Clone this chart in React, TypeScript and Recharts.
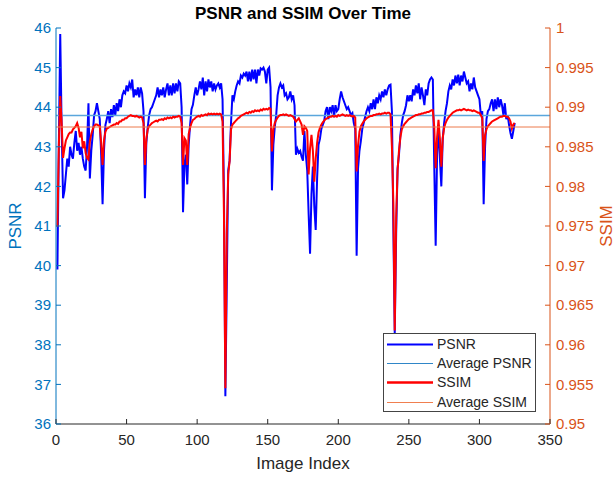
import React from 'react';
import { LineChart, Line, XAxis, YAxis, ReferenceLine, Legend } from 'recharts';

// PSNR per image (image index 1..325)
const psnr = [
  39.9, 43.0, 45.85, 43.5, 41.7, 41.9, 42.3, 42.7, 42.5, 43.0,
  42.8, 42.7, 43.1, 43.4, 42.9, 43.1, 42.8, 43.0, 42.7, 42.5,
  42.4, 43.0, 44.1, 42.2, 42.9, 43.3, 43.8, 43.9, 44.1, 43.9,
  43.7, 42.8, 41.55, 42.9, 43.55, 43.7, 43.9, 43.6, 43.95, 43.75,
  44.05, 43.8, 44.1, 43.9, 44.2, 44.0, 44.3, 44.4, 44.35, 44.55,
  44.4, 44.6, 44.5, 44.7, 44.25, 44.45, 44.3, 44.5, 44.25, 44.5,
  44.35, 43.9, 41.7, 43.1, 43.5, 43.8, 43.95, 44.0, 44.1, 44.2,
  44.3, 44.5, 44.25, 44.45, 44.3, 44.5, 44.25, 44.45, 44.6, 44.3,
  44.55, 44.3, 44.6, 44.35, 44.6, 44.4, 44.65, 44.6, 44.0, 41.35,
  42.55, 42.8, 42.05, 43.05, 43.55, 43.95, 44.06, 44.3, 44.5, 44.3,
  44.45, 44.65, 44.45, 44.75, 44.3, 44.65, 44.4, 44.7, 44.5, 44.65,
  44.4, 44.6, 44.45, 44.55, 44.6, 44.5, 44.6, 44.2, 41.8, 36.7,
  39.5, 42.4, 42.65, 43.6, 44.3, 44.2, 44.4, 44.55, 44.65, 44.6,
  44.8, 44.75, 44.85, 44.8, 44.9, 44.65, 44.9, 44.65, 44.95, 44.7,
  44.95, 44.6, 44.95, 44.8, 44.98, 44.95, 45.0, 44.9, 44.6, 44.95,
  45.0, 44.5, 41.9, 43.05, 43.5, 43.8, 44.3, 44.5, 44.6, 44.5,
  44.55, 44.3, 44.35, 44.2, 44.25, 44.4, 44.2, 44.3, 44.05, 42.8,
  42.95, 42.85, 42.9, 42.75, 42.65, 43.4, 42.8, 42.4, 41.3, 40.3,
  41.8, 42.5, 41.5, 40.9, 42.2, 43.05, 43.2, 43.45, 43.55, 43.65,
  43.9, 44.0, 43.7, 44.0, 43.9, 44.05, 43.75, 44.05, 43.9, 43.95,
  44.2, 44.4, 44.25, 44.15, 44.05, 43.95, 44.0, 43.9, 43.8, 43.85,
  43.6, 43.45, 40.25, 42.45, 42.9, 43.15, 43.45, 43.6, 43.75, 43.9,
  44.0, 43.9, 44.1, 43.95, 44.2, 43.95, 44.25, 44.1, 44.3, 44.2,
  44.4, 44.25, 44.45, 44.3, 44.45, 44.55, 44.57, 43.9, 41.0, 38.3,
  40.8, 42.45, 42.8, 43.3, 43.6, 43.8, 43.9, 44.05, 44.3, 44.15,
  44.3, 44.15, 44.45, 44.3, 44.55, 44.35, 44.6, 44.2, 44.5, 44.3,
  44.05, 44.45, 44.3, 44.6, 44.7, 44.75, 44.7, 42.5, 40.5, 42.8,
  43.55, 42.7, 42.0, 43.2, 43.6, 43.9, 44.1, 44.4, 44.55, 44.45,
  44.7, 44.55, 44.8, 44.6, 44.82, 44.55, 44.8, 44.65, 44.9, 44.75,
  44.6, 44.65, 44.4, 44.6, 44.45, 44.75, 44.5, 44.4, 44.3, 44.2,
  43.8, 43.9, 41.55, 43.0, 43.7, 43.9, 43.95, 44.1, 44.2, 43.9,
  44.2, 43.95, 44.25, 44.0, 44.2, 44.05, 43.8, 44.1, 43.7, 43.8,
  43.55, 43.35, 43.2, 43.4, 43.6,
];

// SSIM per image (image index 1..325)
const ssim = [
  0.9749, 0.985, 0.9914, 0.988, 0.9836, 0.9848, 0.9858, 0.9862, 0.9866, 0.9868,
  0.9868, 0.9872, 0.9874, 0.9876, 0.988, 0.9874, 0.9862, 0.9869, 0.9848, 0.9857,
  0.9842, 0.9836, 0.9834, 0.9857, 0.9866, 0.9872, 0.9876, 0.9878, 0.9878, 0.9877,
  0.9876, 0.9855, 0.9827, 0.9858, 0.9869, 0.9873, 0.9874, 0.9875, 0.9876, 0.9877,
  0.9878, 0.9878, 0.988, 0.9879, 0.9882, 0.9882, 0.9884, 0.9884, 0.9886, 0.9886,
  0.9888, 0.9889, 0.989, 0.9889, 0.9889, 0.9888, 0.9889, 0.9888, 0.9887, 0.9888,
  0.9887, 0.988, 0.9827, 0.986, 0.9872, 0.9876, 0.9878, 0.988, 0.9881, 0.9882,
  0.9883, 0.9882, 0.9884, 0.9884, 0.9885, 0.9884, 0.9886, 0.9885, 0.9887, 0.9886,
  0.9887, 0.9886, 0.9888, 0.9887, 0.9888, 0.9888, 0.9889, 0.9888, 0.988, 0.9827,
  0.9861, 0.9858, 0.9827, 0.9866, 0.9874, 0.988, 0.9884, 0.9885, 0.9887, 0.9888,
  0.9889, 0.9888, 0.989, 0.9889, 0.989, 0.9891, 0.989, 0.9892, 0.9891, 0.9892,
  0.9891, 0.9892, 0.9891, 0.9892, 0.9891, 0.9892, 0.9891, 0.9882, 0.9765, 0.9545,
  0.974, 0.9815, 0.9832, 0.9872, 0.9878, 0.988, 0.9882, 0.9884, 0.9886, 0.9887,
  0.9889, 0.989, 0.9891, 0.9892, 0.9893, 0.9892, 0.9894, 0.9893, 0.9895, 0.9894,
  0.9896, 0.9895, 0.9896, 0.9895, 0.9897, 0.9896, 0.9898, 0.9897, 0.9898, 0.9897,
  0.9899, 0.9898, 0.9844, 0.9872, 0.988, 0.9884, 0.9887, 0.9889, 0.989, 0.989,
  0.9891, 0.989, 0.9891, 0.989, 0.9889, 0.989, 0.9889, 0.9888, 0.9885, 0.9882,
  0.9884, 0.9886, 0.9882, 0.9878, 0.9865, 0.9876, 0.9874, 0.987, 0.9815, 0.9848,
  0.9865, 0.9845, 0.9806, 0.9835, 0.9855, 0.9868, 0.9874, 0.9878, 0.9881, 0.9883,
  0.9885, 0.9886, 0.9887, 0.9888, 0.9888, 0.9889, 0.9888, 0.9889, 0.9888, 0.989,
  0.9889, 0.989, 0.9891, 0.989, 0.9889, 0.989, 0.9889, 0.989, 0.9889, 0.9888,
  0.9889, 0.9887, 0.9819, 0.9852, 0.9869, 0.9876, 0.9879, 0.9882, 0.9884, 0.9886,
  0.9887, 0.9888, 0.9889, 0.9889, 0.989, 0.989, 0.9891, 0.9891, 0.9892, 0.9891,
  0.9892, 0.9892, 0.9893, 0.9892, 0.9893, 0.9893, 0.9891, 0.985, 0.978, 0.9618,
  0.976, 0.982, 0.9845, 0.9862, 0.9872, 0.9876, 0.9879, 0.9881, 0.9883, 0.9885,
  0.9886, 0.9887, 0.9888, 0.9889, 0.989, 0.989, 0.9891, 0.9891, 0.9892, 0.9892,
  0.9893, 0.9893, 0.9894, 0.9894, 0.9895, 0.9896, 0.9896, 0.9875, 0.9823, 0.9862,
  0.9884, 0.986, 0.9825, 0.9861, 0.9874, 0.988, 0.9884, 0.9887, 0.9889, 0.9891,
  0.9893, 0.9894, 0.9895, 0.9896, 0.9896, 0.9897, 0.9896, 0.9897, 0.9898, 0.9897,
  0.9896, 0.9897, 0.9896, 0.9896, 0.9895, 0.9896, 0.9895, 0.9894, 0.9893, 0.9893,
  0.989, 0.9886, 0.9832, 0.9865, 0.9872, 0.9876, 0.9878, 0.988, 0.9882, 0.9883,
  0.9884, 0.9885, 0.9886, 0.9887, 0.9888, 0.9888, 0.9889, 0.9889, 0.9888, 0.9888,
  0.9886, 0.9882, 0.9873, 0.9878, 0.988,
];

const AVG_PSNR = 43.79;
const AVG_SSIM = 0.9875;

const xTicks = [0, 50, 100, 150, 200, 250, 300, 350];
const psnrTicks = [36, 37, 38, 39, 40, 41, 42, 43, 44, 45, 46];
const ssimTicks = [0.95, 0.955, 0.96, 0.965, 0.97, 0.975, 0.98, 0.985, 0.99, 0.995, 1];

const legendItems = [
  { name: 'PSNR', color: '#0000FF', width: 2 },
  { name: 'Average PSNR', color: '#2F86C8', width: 1 },
  { name: 'SSIM', color: '#FF0000', width: 2.5 },
  { name: 'Average SSIM', color: '#F07F4F', width: 1 },
];

const data = psnr.map((p, i) => ({ idx: i + 1, psnr: p, ssim: ssim[i] }));

const W = 616;
const H = 477;
const PL = 56;
const PR = 550;
const PT = 28;
const PB = 424;
const FONT = '"Liberation Sans", Arial, Helvetica, sans-serif';
const BLUE_AX = '#0072BD';
const ORANGE_AX = '#D95319';
const DARK = '#262626';
const TICK_FS = 15;

const BottomTick = (props: any) => {
  const { x, payload } = props;
  return (
    <g>
      <line x1={x} x2={x} y1={PB} y2={PB - 5} stroke={DARK} strokeWidth={1} />
      <text x={x} y={PB + 16} dy="0.35em" textAnchor="middle" fill={DARK} fontSize={TICK_FS} fontFamily={FONT}>
        {payload.value}
      </text>
    </g>
  );
};

const TopTick = (props: any) => {
  const { x } = props;
  return <line x1={x} x2={x} y1={PT} y2={PT + 5} stroke={DARK} strokeWidth={1} />;
};

const LeftTick = (props: any) => {
  const { y, payload } = props;
  return (
    <g>
      <line x1={PL} x2={PL + 5} y1={y} y2={y} stroke={BLUE_AX} strokeWidth={1} />
      <text x={PL - 5} y={y} dy="0.35em" textAnchor="end" fill={BLUE_AX} fontSize={TICK_FS} fontFamily={FONT}>
        {payload.value}
      </text>
    </g>
  );
};

const RightTick = (props: any) => {
  const { y, payload } = props;
  const label = String(Number(Number(payload.value).toFixed(3)));
  return (
    <g>
      <line x1={PR} x2={PR - 5} y1={y} y2={y} stroke={ORANGE_AX} strokeWidth={1} />
      <text x={PR + 6} y={y} dy="0.35em" textAnchor="start" fill={ORANGE_AX} fontSize={TICK_FS} fontFamily={FONT}>
        {label}
      </text>
    </g>
  );
};

const LegendBox = () => (
  <div
    style={{
      border: '1px solid #444',
      background: '#fff',
      width: 151,
      height: 77,
      boxSizing: 'content-box',
      padding: 0,
      fontFamily: FONT,
      fontSize: 14,
      color: DARK,
    }}
  >
    {legendItems.map((it, i) => (
      <div key={it.name} style={{ position: 'absolute', left: 4, top: 2 + i * 19.2, height: 19, display: 'flex', alignItems: 'center' }}>
        <svg width={46} height={19} style={{ display: 'block' }}>
          <line x1={0} x2={46} y1={9.5} y2={9.5} stroke={it.color} strokeWidth={it.width} />
        </svg>
        <span style={{ marginLeft: 4, whiteSpace: 'nowrap', lineHeight: '19px' }}>{it.name}</span>
      </div>
    ))}
  </div>
);

export default function App() {
  return (
    <div style={{ position: 'absolute', left: 0, top: 0, width: W, height: H, background: '#fff' }}>
      <div
        style={{
          position: 'absolute',
          left: PL,
          width: PR - PL,
          top: 4,
          textAlign: 'center',
          fontFamily: FONT,
          fontWeight: 'bold',
          fontSize: 17,
          color: '#000',
          lineHeight: '20px',
          zIndex: 2,
        }}
      >
        PSNR and SSIM Over Time
      </div>
      <LineChart width={W} height={H} data={data} margin={{ top: PT, right: 0, bottom: 23, left: 0 }}>
        <XAxis
          xAxisId="b"
          dataKey="idx"
          type="number"
          domain={[0, 350]}
          ticks={xTicks}
          interval={0}
          height={30}
          axisLine={{ stroke: DARK }}
          tickLine={false}
          tick={(p: any) => <BottomTick {...p} />}
          label={{ value: 'Image Index', position: 'bottom', offset: 3, style: { fontFamily: FONT, fontSize: 17, fill: DARK } }}
        />
        <XAxis
          xAxisId="t"
          orientation="top"
          dataKey="idx"
          type="number"
          domain={[0, 350]}
          ticks={xTicks}
          interval={0}
          height={0}
          axisLine={{ stroke: DARK }}
          tickLine={false}
          tick={(p: any) => <TopTick {...p} />}
        />
        <YAxis
          yAxisId="l"
          domain={[36, 46]}
          ticks={psnrTicks}
          interval={0}
          width={56}
          axisLine={{ stroke: BLUE_AX }}
          tickLine={false}
          tick={(p: any) => <LeftTick {...p} />}
          label={{ value: 'PSNR', angle: -90, position: 'insideLeft', offset: 15, style: { textAnchor: 'middle', fontFamily: FONT, fontSize: 17, fill: BLUE_AX } }}
        />
        <YAxis
          yAxisId="r"
          orientation="right"
          domain={[0.95, 1]}
          ticks={ssimTicks}
          interval={0}
          width={66}
          axisLine={{ stroke: ORANGE_AX }}
          tickLine={false}
          tick={(p: any) => <RightTick {...p} />}
          label={{ value: 'SSIM', angle: -90, position: 'insideRight', offset: 10, style: { textAnchor: 'middle', fontFamily: FONT, fontSize: 17, fill: ORANGE_AX } }}
        />
        <Line
          xAxisId="b"
          yAxisId="l"
          type="linear"
          dataKey="psnr"
          name="PSNR"
          stroke="#0000FF"
          strokeWidth={2}
          dot={false}
          isAnimationActive={false}
        />
        <ReferenceLine xAxisId="b" yAxisId="l" y={AVG_PSNR} stroke="#5AA6DC" strokeWidth={1.5} />
        <Line
          xAxisId="b"
          yAxisId="r"
          type="linear"
          dataKey="ssim"
          name="SSIM"
          stroke="#FF0000"
          strokeWidth={2}
          dot={false}
          isAnimationActive={false}
        />
        <ReferenceLine xAxisId="b" yAxisId="r" y={AVG_SSIM} stroke="#EC7A4C" strokeWidth={1} />
        <Legend
          layout="horizontal"
          verticalAlign="middle"
          align="center"
          content={() => <LegendBox />}
          wrapperStyle={{ position: 'absolute', left: 383, top: 333, width: 153, height: 79 }}
        />
      </LineChart>
    </div>
  );
}
